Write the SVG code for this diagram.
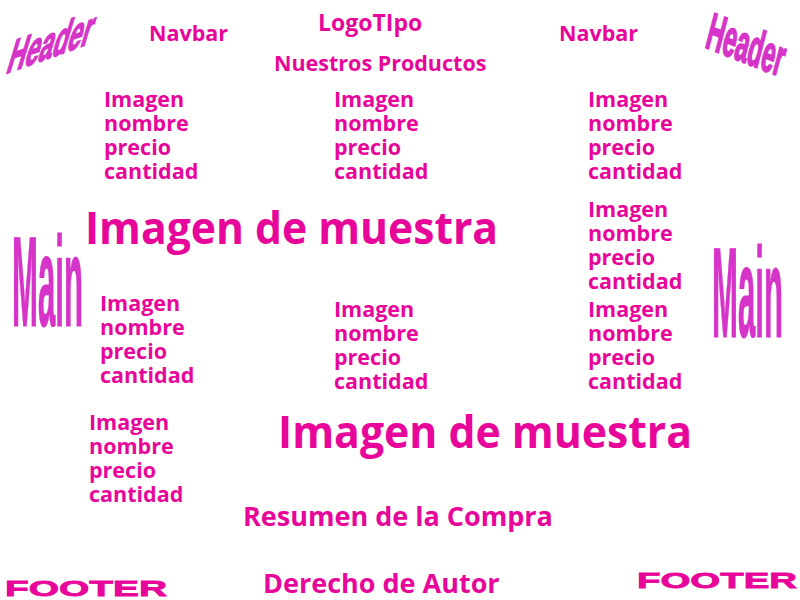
<svg xmlns="http://www.w3.org/2000/svg" width="800" height="600" viewBox="0 0 800 600">
<style>
.p{font-family:"Open Sans","Noto Sans",sans-serif;font-weight:700;fill:#e8069a;font-size:21.5px}
.big{font-size:45px}
.mid{font-size:27px}
.logo{font-size:23px}
.c{font-family:"Liberation Sans",Arial,sans-serif;font-weight:700;fill:#d633c8;stroke:#d633c8;stroke-width:1.2}
.h{stroke-width:1.8}
.f{font-family:"Liberation Sans",Arial,sans-serif;font-weight:700;fill:#e8069a;stroke:#e8069a;stroke-width:0.8;font-size:22px}
</style>
<rect width="800" height="600" fill="#ffffff"/>
<g id="header">
<text class="c h" font-size="49" textLength="84" lengthAdjust="spacingAndGlyphs" transform="matrix(1,-0.36,-0.3,1,5,74)">Header</text>
<text class="c h" font-size="50" textLength="76" lengthAdjust="spacingAndGlyphs" transform="matrix(1,0.39,-0.26,1,704,47)">Header</text>
<text class="p" x="149" y="41">Navbar</text>
<text class="p" x="559" y="41">Navbar</text>
<text class="p logo" x="318" y="31">LogoTIpo</text>
<text class="p" x="274" y="71">Nuestros Productos</text>
</g>
<g id="main">
<text class="c" font-size="128" x="12" y="326" textLength="71" lengthAdjust="spacingAndGlyphs">Main</text>
<text class="c" font-size="128" x="712" y="337" textLength="71" lengthAdjust="spacingAndGlyphs">Main</text>
<text class="p big" x="85" y="244" textLength="413" lengthAdjust="spacingAndGlyphs">Imagen de muestra</text>
<text class="p big" x="278" y="448" textLength="414" lengthAdjust="spacingAndGlyphs">Imagen de muestra</text>
</g>
<g id="p1" class="p"><text x="104" y="107">Imagen</text><text x="104" y="131">nombre</text><text x="104" y="155">precio</text><text x="104" y="179">cantidad</text></g>
<g id="p2" class="p"><text x="334" y="107">Imagen</text><text x="334" y="131">nombre</text><text x="334" y="155">precio</text><text x="334" y="179">cantidad</text></g>
<g id="p3" class="p"><text x="588" y="107">Imagen</text><text x="588" y="131">nombre</text><text x="588" y="155">precio</text><text x="588" y="179">cantidad</text></g>
<g id="p4" class="p"><text x="588" y="217">Imagen</text><text x="588" y="241">nombre</text><text x="588" y="265">precio</text><text x="588" y="289">cantidad</text></g>
<g id="p5" class="p"><text x="100" y="311">Imagen</text><text x="100" y="335">nombre</text><text x="100" y="359">precio</text><text x="100" y="383">cantidad</text></g>
<g id="p6" class="p"><text x="334" y="317">Imagen</text><text x="334" y="341">nombre</text><text x="334" y="365">precio</text><text x="334" y="389">cantidad</text></g>
<g id="p7" class="p"><text x="588" y="317">Imagen</text><text x="588" y="341">nombre</text><text x="588" y="365">precio</text><text x="588" y="389">cantidad</text></g>
<g id="p8" class="p"><text x="89" y="430">Imagen</text><text x="89" y="454">nombre</text><text x="89" y="478">precio</text><text x="89" y="502">cantidad</text></g>
<g id="footer">
<text class="p mid" x="243" y="526">Resumen de la Compra</text>
<text class="p mid" x="263" y="593">Derecho de Autor</text>
<text class="f" x="5" y="596" textLength="162" lengthAdjust="spacingAndGlyphs">FOOTER</text>
<text class="f" x="637" y="588" textLength="160" lengthAdjust="spacingAndGlyphs">FOOTER</text>
</g>
</svg>
